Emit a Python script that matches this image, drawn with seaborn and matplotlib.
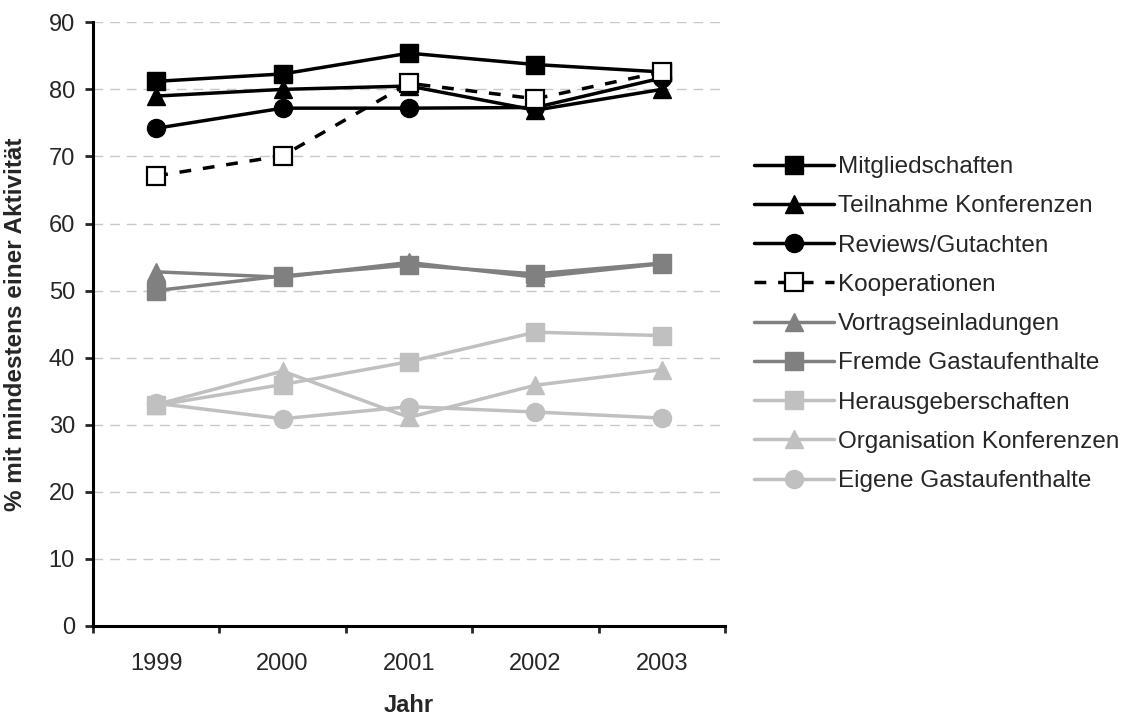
import pandas as pd
import numpy as np
import matplotlib.pyplot as plt
import seaborn as sns

# === DATEN ===
jahre = [1999, 2000, 2001, 2002, 2003]
serien = [
    "Mitgliedschaften",
    "Teilnahme Konferenzen",
    "Reviews/Gutachten",
    "Kooperationen",
    "Vortragseinladungen",
    "Fremde Gastaufenthalte",
    "Herausgeberschaften",
    "Organisation Konferenzen",
    "Eigene Gastaufenthalte",
]
mitgliedschaften = [81.2, 82.3, 85.4, 83.7, 82.6]
teilnahme_konferenzen = [79.0, 80.0, 80.5, 76.9, 80.0]
reviews_gutachten = [74.2, 77.2, 77.2, 77.3, 81.7]
kooperationen = [67.1, 70.1, 80.9, 78.6, 82.6]
vortragseinladungen = [52.8, 52.0, 54.2, 52.0, 54.0]
fremde_gastaufenthalte = [50.0, 52.2, 53.8, 52.5, 54.1]
herausgeberschaften = [32.9, 36.0, 39.4, 43.8, 43.3]
organisation_konferenzen = [33.0, 38.0, 31.1, 35.9, 38.2]
eigene_gastaufenthalte = [33.2, 30.9, 32.7, 31.9, 31.0]

werte = [mitgliedschaften, teilnahme_konferenzen, reviews_gutachten, kooperationen,
         vortragseinladungen, fremde_gastaufenthalte, herausgeberschaften,
         organisation_konferenzen, eigene_gastaufenthalte]

# === STIL ===
farben = ["black"] * 4 + ["#808080"] * 2 + ["#C0C0C0"] * 3
marker = ["s", "^", "o", "s", "^", "s", "s", "^", "o"]
striche = ["", "", "", (3.4, 3.4), "", "", "", "", ""]

df = pd.DataFrame({
    "Jahr": np.tile(jahre, len(serien)),
    "Serie": np.repeat(serien, len(jahre)),
    "Wert": np.concatenate(werte),
})

sns.set_style("white")
plt.rcParams["font.family"] = ["Liberation Sans", "DejaVu Sans"]
fs = 17
fs_leg = 17.5

fig = plt.figure(figsize=(11.29, 7.15), dpi=100)
ax = fig.add_axes([93 / 1129, 1 - 626 / 715, (725 - 93) / 1129, (626 - 22.3) / 715])

sns.lineplot(
    data=df, x="Jahr", y="Wert", hue="Serie", style="Serie",
    hue_order=serien, style_order=serien,
    palette=dict(zip(serien, farben)),
    markers=dict(zip(serien, marker)),
    dashes=dict(zip(serien, striche)),
    linewidth=2.5, markersize=13, ax=ax, legend=False,
)

linien = ax.lines[:len(serien)]
for i, ln in enumerate(linien):
    ln.set_markeredgecolor(farben[i])
    ln.set_markeredgewidth(1)
ax.lines[3].set_markerfacecolor("white")
ax.lines[3].set_markeredgewidth(1.6)

# === ACHSEN ===
ax.set_ylim(0, 90)
ax.set_xlim(1998.5, 2003.5)
ax.set_yticks(range(0, 91, 10))
ax.set_xticks(np.arange(1998.5, 2004, 1))
ax.set_xticklabels([])
ax.set_xticks(jahre, minor=True)
ax.set_xticklabels([str(j) for j in jahre], minor=True)
ax.tick_params(axis="x", which="major", direction="out", length=5, width=2, bottom=True)
ax.tick_params(axis="x", which="minor", length=0, pad=19.5, labelsize=fs)
ax.tick_params(axis="y", direction="out", length=6, width=2, pad=7, labelsize=fs, left=True)

for s in ["top", "right"]:
    ax.spines[s].set_visible(False)
for s in ["left", "bottom"]:
    ax.spines[s].set_color("black")
    ax.spines[s].set_linewidth(2.2)

for yv in range(10, 91, 10):
    ax.axhline(yv, color="#C8C8C8", lw=1, dashes=(7, 5), zorder=0)

ax.set_ylabel("% mit mindestens einer Aktivität", fontsize=17.5, fontweight="bold")
ax.set_xlabel("Jahr", fontsize=fs, fontweight="bold")
ax.yaxis.set_label_coords(-0.104, 0.5)
ax.xaxis.set_label_coords(0.5, -0.1126)

fig.legend(
    linien, serien, loc="upper left", bbox_to_anchor=(754 / 1129, 1 - 156 / 715),
    frameon=False, borderpad=0, borderaxespad=0, handlelength=3.3,
    handletextpad=0.15, labelspacing=0.71, fontsize=fs_leg, numpoints=1,
)

fig.savefig("out.png", dpi=100, facecolor="white")
